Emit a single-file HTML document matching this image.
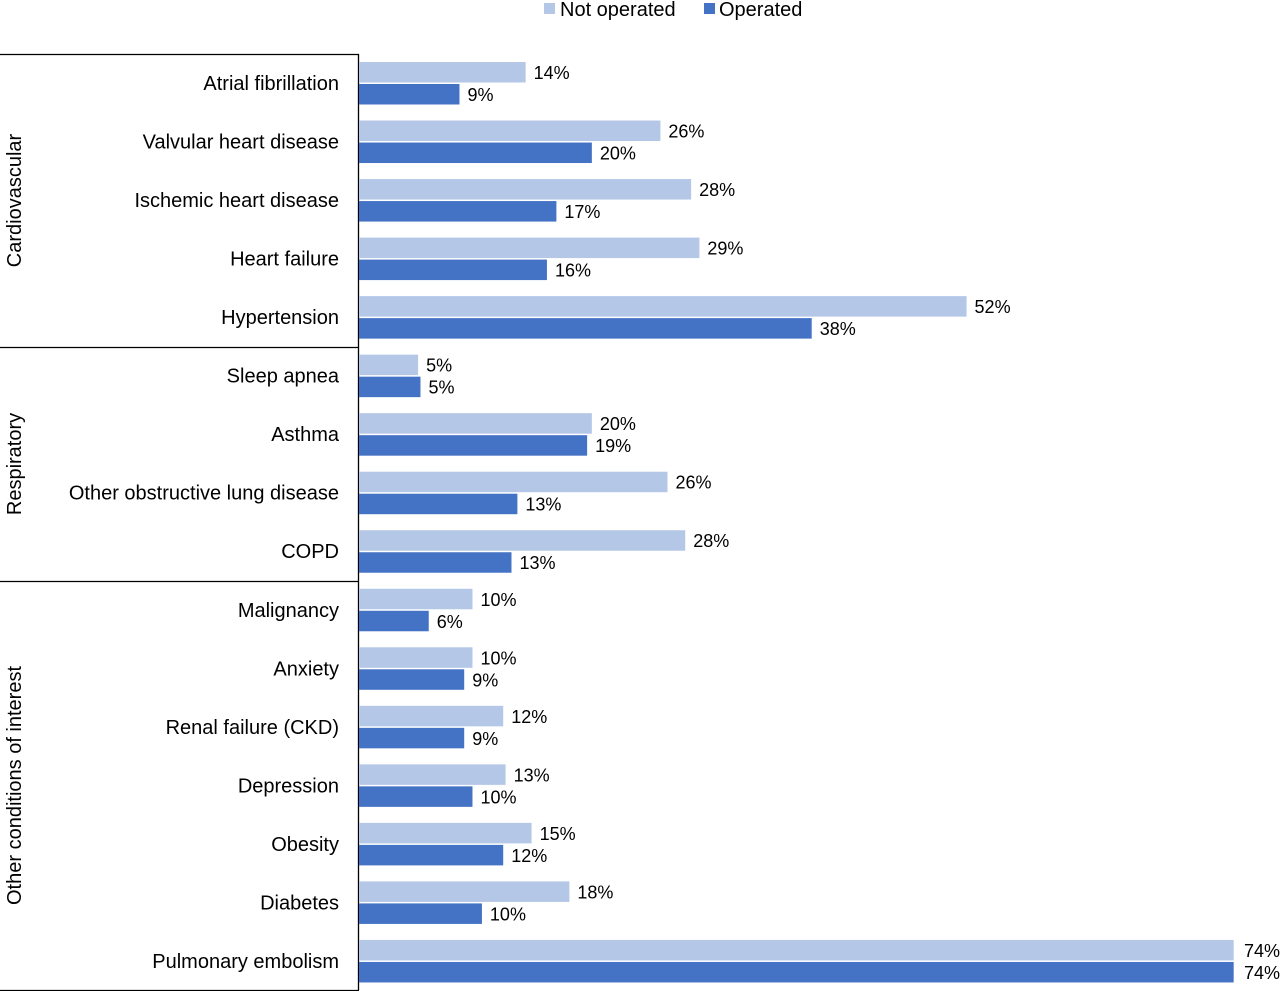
<!DOCTYPE html>
<html><head><meta charset="utf-8"><style>
html,body{margin:0;padding:0;background:#fff;}
svg{display:block;font-family:"Liberation Sans",Arial,sans-serif;}
</style></head><body>
<svg id="chart" width="1280" height="991" viewBox="0 0 1280 991" xmlns="http://www.w3.org/2000/svg">
<g>
  <rect x="544" y="3" width="11" height="11" fill="#b4c7e7"/>
  <text x="560" y="16" font-size="20" fill="#000">Not operated</text>
  <rect x="704" y="3" width="11" height="11" fill="#4472c4"/>
  <text x="719" y="16" font-size="20" fill="#000">Operated</text>
</g>
<g id="groups"></g>
<g id="bars"></g>
</svg>
<script>
const categories = ["Atrial fibrillation","Valvular heart disease","Ischemic heart disease","Heart failure","Hypertension","Sleep apnea","Asthma","Other obstructive lung disease","COPD","Malignancy","Anxiety","Renal failure (CKD)","Depression","Obesity","Diabetes","Pulmonary embolism"];
const notOperated = [14.1,25.5,28.1,28.8,51.4,5.0,19.7,26.1,27.6,9.6,9.6,12.2,12.4,14.6,17.8,74];
const operated = [8.5,19.7,16.7,15.9,38.3,5.2,19.3,13.4,12.9,5.9,8.9,8.9,9.6,12.2,10.4,74];
const notOperatedLabels = ["14%","26%","28%","29%","52%","5%","20%","26%","28%","10%","10%","12%","13%","15%","18%","74%"];
const operatedLabels = ["9%","20%","17%","16%","38%","5%","19%","13%","13%","6%","9%","9%","10%","12%","10%","74%"];
const groupNames = ["Cardiovascular","Respiratory","Other conditions of interest"];
const groupSizes = [5,4,7];

const NS="http://www.w3.org/2000/svg";
const x0=359, pxPer=11.82, top0=62, pitch=58.53, barH=20.5, gap=1.5;
const xScale=v=>x0+v*pxPer;
const yRow=i=>top0+i*pitch;
function mk(tag,attrs,parent){const e=document.createElementNS(NS,tag);for(const k in attrs)e.setAttribute(k,attrs[k]);parent.appendChild(e);return e;}
const bars=document.getElementById('bars');
const groups=document.getElementById('groups');

categories.forEach((c,i)=>{
  const y=yRow(i);
  const t=mk('text',{x:339,y:y+28,'text-anchor':'end','font-size':20,fill:'#000'},bars);
  
  
  t.textContent=c;
  const r1=mk('rect',{x:x0,y:y,width:xScale(notOperated[i])-x0,height:barH,fill:'#b4c7e7'},bars);
  
  
  const r2=mk('rect',{x:x0,y:y+barH+gap,width:xScale(operated[i])-x0,height:barH,fill:'#4472c4'},bars);
  
  
  const lx1=Math.min(xScale(notOperated[i])+8,1280-2);
  const l1=mk('text',{x:lx1,y:y+17,'font-size':18,fill:'#000','text-anchor':xScale(notOperated[i])+50>1280?'end':'start'},bars);
  if(xScale(notOperated[i])+50>1280) l1.setAttribute('x',1280);
  
  
  l1.textContent=notOperatedLabels[i];
  const l2=mk('text',{x:xScale(operated[i])+8,y:y+barH+gap+17,'font-size':18,fill:'#000','text-anchor':xScale(operated[i])+50>1280?'end':'start'},bars);
  if(xScale(operated[i])+50>1280) l2.setAttribute('x',1280);
  
  
  l2.textContent=operatedLabels[i];
});

// group frame
const bounds=[54];
let acc=0;
groupSizes.forEach((n,g)=>{acc+=n;bounds.push(g===groupSizes.length-1?990:Math.round(yRow(acc)-8));});
const vline=mk('line',{x1:358.5,y1:54,x2:358.5,y2:990,stroke:'#000','stroke-width':1.3},groups);


bounds.forEach((b,k)=>{
  const l=mk('line',{x1:0,y1:b+0.5,x2:359,y2:b+0.5,stroke:'#000','stroke-width':1.3},groups);
  
  
});
groupNames.forEach((g,k)=>{
  const cy=(bounds[k]+bounds[k+1])/2;
  const t=mk('text',{x:0,y:0,'font-size':20,fill:'#000','text-anchor':'middle',transform:'translate(21,'+cy+') rotate(-90)'},groups);
  
  
  t.textContent=g;
});
</script>
</body></html>
